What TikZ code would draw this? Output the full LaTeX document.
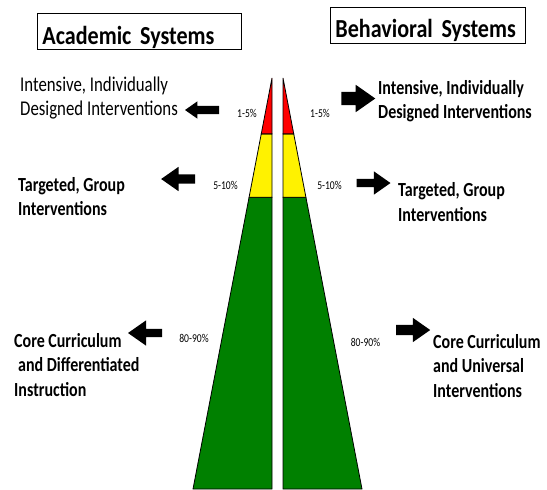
\documentclass[tikz,border=0pt]{standalone}
\usepackage{fontspec}
\setmainfont{Carlito}
\newfontfamily\titlefont[FakeStretch=0.85]{Carlito}
\newfontfamily\labelfont[FakeStretch=0.8]{Carlito}
\usetikzlibrary{calc}
\usetikzlibrary{shapes.arrows}

\tikzset{
  tier/.style={draw=black, line width=0.8pt, line join=miter},
  sysbox/.style={draw, line width=0.8pt, anchor=north west, inner sep=5pt,
    minimum height=36pt, align=left,
    font=\titlefont\bfseries\fontsize{26}{30}\selectfont},
  tierlabel/.style={anchor=west, inner sep=0pt, align=left,
    font=\labelfont\bfseries\fontsize{20}{24.5}\selectfont},
  pct/.style={inner sep=0pt, font=\labelfont\fontsize{12}{14}\selectfont},
  blockarrow/.style={single arrow, fill=black, inner xsep=0pt, inner ysep=4.5pt,
    minimum height=34pt, single arrow head extend=7.5pt,
    single arrow tip angle=70}
}

\begin{document}
\begin{tikzpicture}[x=1pt, y=-1pt]
        \useasboundingbox (0,0) rectangle (547,490);
        \def\tipcut{0.136}  % red / yellow border
        \def\midcut{0.29}   % yellow / green border

        % Corners of the two halves
        \coordinate (LA) at (272,78);
        \coordinate (LB) at (193,489);
        \coordinate (LC) at (272,489);
        \coordinate (RA) at (283,78);
        \coordinate (RB) at (362,489);
        \coordinate (RC) at (283,489);

        % Draw the left half
        \filldraw[fill=green!50!black, tier] ($(LA)!\midcut!(LB)$) -- (LB) -- (LC) -- ($(LA)!\midcut!(LC)$) -- cycle;
        \filldraw[fill=yellow, tier] ($(LA)!\tipcut!(LB)$) -- ($(LA)!\midcut!(LB)$) -- ($(LA)!\midcut!(LC)$) -- ($(LA)!\tipcut!(LC)$) -- cycle;
        \filldraw[fill=red, tier] (LA) -- ($(LA)!\tipcut!(LB)$) -- ($(LA)!\tipcut!(LC)$) -- cycle;

        % Draw the right half
        \filldraw[fill=green!50!black, tier] ($(RA)!\midcut!(RB)$) -- (RB) -- (RC) -- ($(RA)!\midcut!(RC)$) -- cycle;
        \filldraw[fill=yellow, tier] ($(RA)!\tipcut!(RB)$) -- ($(RA)!\midcut!(RB)$) -- ($(RA)!\midcut!(RC)$) -- ($(RA)!\tipcut!(RC)$) -- cycle;
        \filldraw[fill=red, tier] (RA) -- ($(RA)!\tipcut!(RB)$) -- ($(RA)!\tipcut!(RC)$) -- cycle;

        % Titles
        \node[sysbox, text width=194pt, text height=26pt, text depth=0pt] (acad) at (37,13) {Academic Systems};
        \node[sysbox, text width=185pt, text height=25pt, text depth=1pt] (behav) at (330,7) {Behavioral Systems};

        % Percentages
        \node[pct] (api) at (247,113) {1-5\%};
        \node[pct] (bpi) at (320,113) {1-5\%};
        \node[pct] (apt) at (225.5,185) {5-10\%};
        \node[pct] (bpt) at (329.5,185) {5-10\%};
        \node[pct] (apc) at (194,338) {80-90\%};
        \node[pct] (bpc) at (365.5,342) {80-90\%};

        % Arrows
        \node[blockarrow, shape border rotate=180, inner ysep=4pt, single arrow head extend=4.5pt] (aiarrow) at (205,110) {};
        \node[blockarrow, inner ysep=6.5pt, single arrow head extend=7pt] (biarrow) at (353.5,98.5) {};
        \node[blockarrow, shape border rotate=180] (atarrow) at (181.5,179) {};
        \node[blockarrow, inner ysep=4pt] (btarrow) at (370.5,183) {};
        \node[blockarrow, shape border rotate=180, inner ysep=4pt, single arrow head extend=8.5pt] (acarrow) at (148,333) {};
        \node[blockarrow, inner ysep=5pt, single arrow head extend=7pt] (bcarrow) at (409.5,330) {};

        % Tier texts
        \node[tierlabel, font=\labelfont\fontsize{21}{24}\selectfont] (aitext) at (20,98) {Intensive, Individually\\Designed Interventions};
        \node[tierlabel] (bitext) at (378,101) {Intensive, Individually\\Designed Interventions};
        \node[tierlabel] (attext) at (18,196.5) {Targeted, Group\\Interventions};
        \node[tierlabel] (bttext) at (398,202) {Targeted, Group\\Interventions};
        \node[tierlabel] (actext) at (14,365) {Core Curriculum\\\hspace*{4pt}and Differentiated\\Instruction};
        \node[tierlabel] (bctext) at (433,366) {Core Curriculum\\and Universal\\Interventions};

      \end{tikzpicture}
\end{document}
